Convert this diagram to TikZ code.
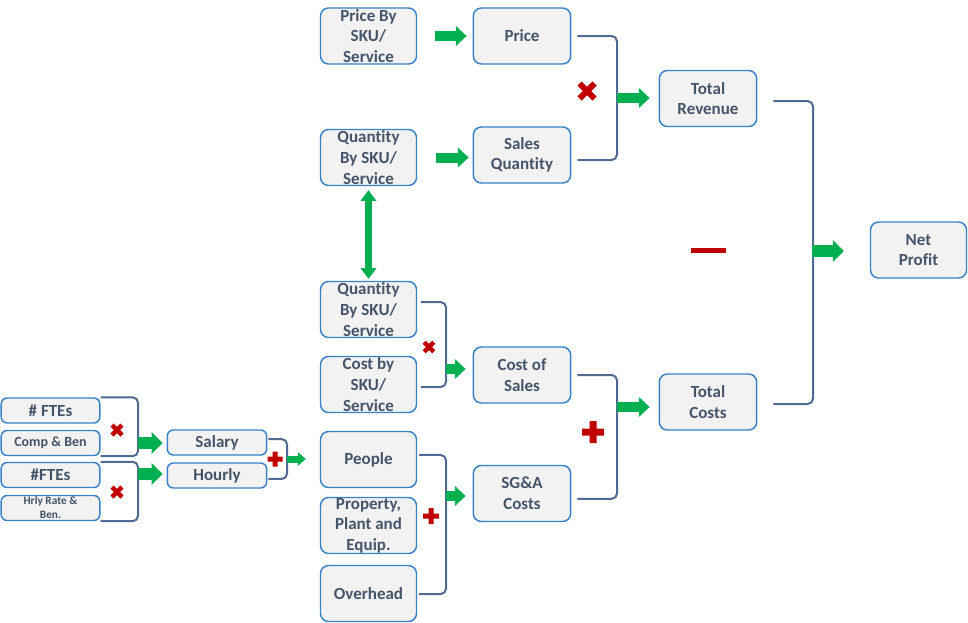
\documentclass[tikz,border=0pt]{standalone}
\usepackage{fontspec}
\setmainfont{Carlito}[Ligatures=NoCommon]
\usetikzlibrary{arrows.meta}
\definecolor{boxline}{RGB}{58,130,200}
\definecolor{boxfill}{RGB}{242,242,242}
\definecolor{txt}{RGB}{68,84,106}
\definecolor{brk}{RGB}{80,106,145}
\definecolor{grn}{RGB}{0,176,80}
\definecolor{rd}{RGB}{192,0,0}
\begin{document}
\begin{tikzpicture}[x=0.75pt,y=-0.75pt,
 box/.style={draw=boxline, fill=boxfill, line width=1.1pt, rounded corners=6pt, inner sep=0pt,
   minimum width=72pt, minimum height=42pt, align=center, text=txt,
   font=\bfseries\fontsize{12.75}{15.5}\selectfont},
 wbox/.style={box, minimum width=73pt},
 sbox/.style={box, minimum width=74pt, minimum height=18.75pt, rounded corners=4.5pt},
 bracket/.style={draw=brk, line width=1.5pt, rounded corners=4pt},
 garrow/.style={draw=grn, line width=7.5pt, -{Triangle[length=8pt,width=15pt,line width=0pt]}},
 bgarrow/.style={draw=grn, line width=9pt, -{Triangle[length=8.25pt,width=16.5pt,line width=0pt]}},
 sgarrow/.style={draw=grn, line width=5.25pt, -{Triangle[length=6pt,width=10.5pt,line width=0pt]}},
 dgarrow/.style={draw=grn, line width=5pt, {Triangle[length=8pt,width=12pt,line width=0pt]}-{Triangle[length=8pt,width=12pt,line width=0pt]}},
 pics/redx/.style 2 args={code={\draw[rd, line width=#2] (-#1,-#1) -- (#1,#1) (-#1,#1) -- (#1,-#1);}},
 pics/redplus/.style 2 args={code={\fill[rd] (-#1,-#2) rectangle (#1,#2) (-#2,-#1) rectangle (#2,#1);}}
]
\fill[white] (0,0) rectangle (968,622);
\useasboundingbox (0,0) rectangle (968,622);

% nodes
\node[box] (pbs) at (368.5,36) {Price By\\SKU/\\Service};
\node[wbox] (price) at (522,36) {Price};
\node[box] (qbs1) at (368.5,157.5) {Quantity\\By SKU/\\Service};
\node[wbox] (sq) at (522,155) {Sales\\Quantity};
\node[wbox] (trev) at (708,98.5) {Total\\Revenue};
\node[box] (net) at (918.5,250) {Net\\Profit};
\node[box] (qbs2) at (368.5,309.5) {Quantity\\By SKU/\\Service};
\node[box] (cbs) at (368.5,384.5) {Cost by\\SKU/\\Service};
\node[wbox] (cos) at (522,375) {Cost of\\Sales};
\node[wbox] (tcost) at (708,402) {Total\\Costs};
\node[box] (people) at (368.5,459.5) {People};
\node[box] (ppe) at (368.5,525.5) {Property,\\Plant and\\Equip.};
\node[box] (over) at (368.5,593.5) {Overhead};
\node[wbox] (sga) at (522,493.5) {SG\&A\\Costs};
\node[sbox] (fte1) at (50.5,410.5) {\# FTEs};
\node[sbox, font=\bfseries\fontsize{10.5}{12.5}\selectfont] (comp) at (50.5,443) {Comp \& Ben};
\node[sbox] (fte2) at (50.5,475) {\#FTEs};
\node[sbox, font=\bfseries\fontsize{8.5}{10.5}\selectfont] (hrly) at (50.5,508) {Hrly Rate \&\\Ben.};
\node[sbox, minimum width=74.5pt] (salary) at (217,442.5) {Salary};
\node[sbox, minimum width=74.5pt] (hourly) at (217,475.5) {Hourly};

% bracket joints
\coordinate (j1) at (617,98);
\coordinate (j2) at (813,251);
\coordinate (j3) at (617,407);
\coordinate (j4) at (446,369);
\coordinate (j5) at (446,496);
\coordinate (j6) at (287,459);
\coordinate (j7) at (138,443);
\coordinate (j8) at (138,474);

% brackets
\draw[bracket] ([xshift=4.5pt]price.east) -| (j1) |- ([xshift=4.5pt,yshift=-3.75pt]sq.east);
\draw[bracket] ([xshift=12pt,yshift=-1.9pt]trev.east) -| (j2) |- ([xshift=12pt,yshift=-1.5pt]tcost.east);
\draw[bracket] ([xshift=4.5pt]cos.east) -| (j3) |- ([xshift=4.5pt,yshift=-4pt]sga.east);
\draw[bracket] ([xshift=3pt,yshift=5.6pt]qbs2.east) -| (j4) |- ([xshift=3pt,yshift=-1.9pt]cbs.east);
\draw[bracket] ([xshift=1.5pt,yshift=3.4pt]people.east) -| (j5) |- ([xshift=1.5pt,yshift=-0.4pt]over.east);
\draw[bracket] ([xshift=0.75pt,yshift=2.6pt]salary.east) -| (j6) |- ([xshift=0.75pt,yshift=-2.6pt]hourly.east);
\draw[bracket] (fte1.north east) -| (j7) |- (comp.south east);
\draw[bracket] (fte2.north east) -| (j8) |- (hrly.south east);

% green arrows
\draw[garrow, shorten <=13.5pt, shorten >=4.5pt] (pbs.east) -- (price.west);
\draw[garrow, shorten <=14.25pt, shorten >=3pt] (qbs1.east) -- (qbs1.east -| sq.west);
\draw[dgarrow, shorten <=3pt, shorten >=1.5pt] (qbs1.south) -- (qbs2.north);
\draw[garrow, shorten >=6.75pt] (j1) -- (j1 -| trev.west);
\draw[bgarrow, shorten <=-1pt, shorten >=19.5pt] (j2) -- (j2 -| net.west);
\draw[garrow, shorten >=6.75pt] (j3) -- (j3 -| tcost.west);
\draw[garrow, shorten >=5.25pt] (j4) -- (j4 -| cos.west);
\draw[garrow, shorten >=5.25pt] (j5) -- (j5 -| sga.west);
\draw[sgarrow, shorten >=10.5pt] (j6) -- (j6 -| people.west);
\draw[bgarrow, shorten >=3pt] (j7) -- (j7 -| salary.west);
\draw[bgarrow, shorten >=3pt] (j8) -- (j8 -| hourly.west);

% operators
\pic at (587,91) {redx={7.5}{4.5pt}};
\pic at (117,430) {redx={5}{3.4pt}};
\pic at (117,492) {redx={5}{3.4pt}};
\pic at (429,347) {redx={4.8}{3.2pt}};
\pic at (593,432) {redplus={11}{3.5}};
\pic at (275,459) {redplus={7.5}{2.5}};
\pic at (431,516) {redplus={8}{2.5}};
\fill[rd] (691,247.5) rectangle (726,252.5);
\end{tikzpicture}
\end{document}
